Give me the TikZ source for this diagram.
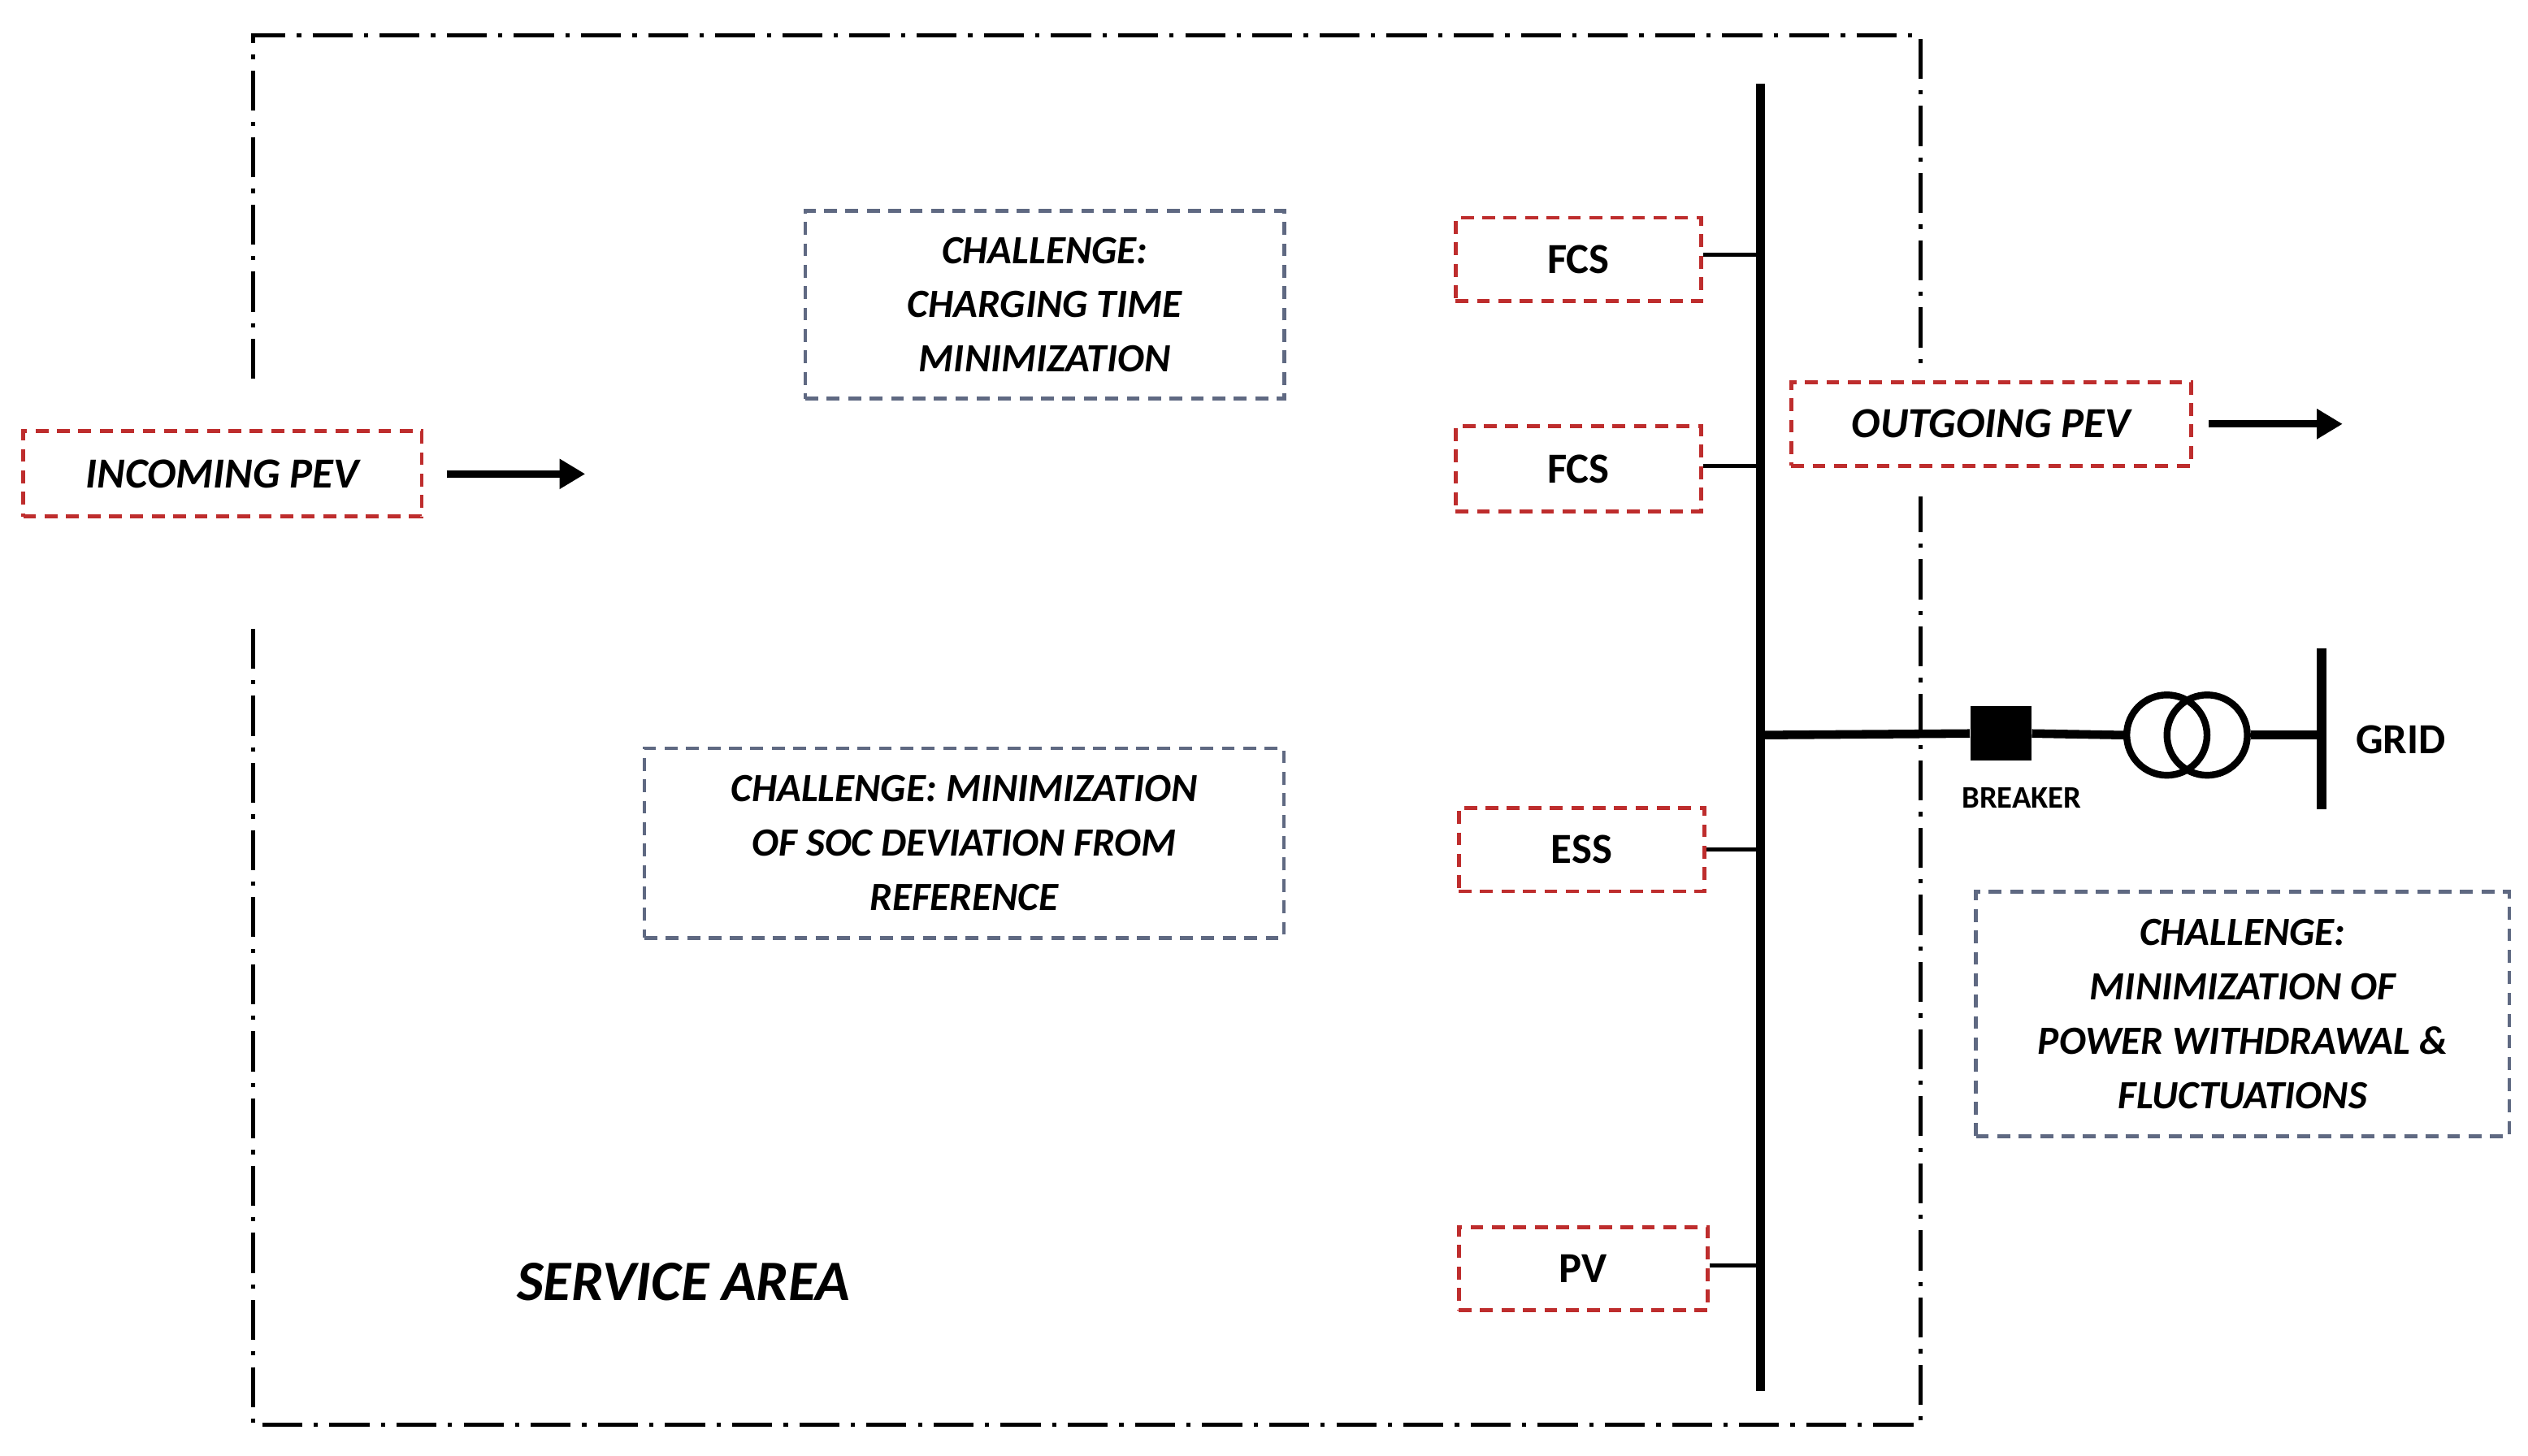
\documentclass[tikz,border=0pt]{standalone}
\usepackage{fontspec}
\setmainfont{Carlito}
\usetikzlibrary{arrows.meta}
\definecolor{rd}{RGB}{190,45,45}
\definecolor{gb}{RGB}{95,105,130}
\begin{document}
\begin{tikzpicture}[x=0.01984cm,y=-0.01984cm,
 rbox/.style={draw=rd,line width=1.4pt,dash pattern=on 4.5pt off 3pt,font=\fontsize{15}{19}\selectfont\bfseries,inner sep=0,align=center},
 gbox/.style={draw=gb,line width=1.3pt,dash pattern=on 4.5pt off 3pt,font=\fontsize{14}{19}\selectfont\bfseries\itshape,inner sep=0,align=center},
 area/.style={line width=1.4pt,dash pattern=on 14pt off 4pt on 1.5pt off 4pt},
 arr/.style={line width=2.6pt,-{Triangle[length=9pt,width=10pt]}},
 wire/.style={line width=1.6pt}]
\useasboundingbox (0,0) rectangle (1568,903);
% service area
\draw[area] (157,235) -- (157,22) -- (1191,22) -- (1191,228);
\draw[area] (157,390) -- (157,884) -- (1191,884) -- (1191,308);
% boxes
\node[rbox,minimum width=248*0.5625pt,minimum height=53*0.5625pt,font=\fontsize{15}{19}\selectfont\bfseries\itshape] (in) at (138,294) {INCOMING PEV};
\node[rbox,minimum width=249*0.5625pt,minimum height=52*0.5625pt,font=\fontsize{15}{19}\selectfont\bfseries\itshape] (out) at (1235,263) {OUTGOING PEV};
\coordinate (inE) at (363,294);
\coordinate (outE) at (1453,263);
\draw[arr] (277,294) -- (inE);
\draw[arr] (1370,263) -- (outE);
\node[gbox,minimum width=298*0.5625pt,minimum height=117*0.5625pt] (c1) at (648,189) {CHALLENGE:\\CHARGING TIME\\MINIMIZATION};
\node[gbox,minimum width=398*0.5625pt,minimum height=118*0.5625pt] (c2) at (598,523) {CHALLENGE: MINIMIZATION\\OF SOC DEVIATION FROM\\REFERENCE};
\node[gbox,minimum width=332*0.5625pt,minimum height=152*0.5625pt] (c3) at (1391,629) {CHALLENGE:\\MINIMIZATION OF\\POWER WITHDRAWAL \&\\FLUCTUATIONS};
\node[rbox,minimum width=153*0.5625pt,minimum height=52*0.5625pt] (f1) at (979,161) {FCS};
\node[rbox,minimum width=153*0.5625pt,minimum height=53*0.5625pt] (f2) at (979,291) {FCS};
\node[rbox,minimum width=153*0.5625pt,minimum height=52*0.5625pt] (ess) at (981,527) {ESS};
\node[rbox,minimum width=155*0.5625pt,minimum height=52*0.5625pt] (pv) at (982,787) {PV};
% bus
\coordinate (bt) at (1092,52); \coordinate (bb) at (1092,863);
\draw[line width=3.2pt] (bt) -- (bb);
\foreach \n/\y in {f1/158,f2/289,ess/527,pv/785}{
  \coordinate (b\n) at (1092,\y);
  \draw[wire] (\n.east |- b\n) -- (b\n);
}
% grid line
\coordinate (bg) at (1092,456);
\node[fill=black,minimum width=38*0.5625pt,minimum height=34*0.5625pt,inner sep=0] (brk) at (1241,455) {};
\node[draw,circle,line width=2.4pt,minimum size=50*0.5625pt,inner sep=0] (t1) at (1344,456) {};
\node[draw,circle,line width=2.4pt,minimum size=50*0.5625pt,inner sep=0] (t2) at (1369,456) {};
\coordinate (gt) at (1440,402); \coordinate (gb2) at (1440,502);
\coordinate (gm) at (1440,456);
\draw[line width=3pt] (bg) -- (brk.west);
\draw[line width=3pt] (brk.east) -- (t1.west);
\draw[line width=3pt] (t2.east) -- (gm);
\draw[line width=3.2pt] (gt) -- (gb2);
\node[font=\fontsize{15}{19}\selectfont\bfseries] (grid) at (1489,459) {GRID};
\node[font=\fontsize{11}{13}\selectfont\bfseries] (bl) at (1254,495) {BREAKER};
\node[font=\fontsize{20}{24}\selectfont\bfseries\itshape] (sa) at (424,795) {SERVICE AREA};
\end{tikzpicture}
\end{document}
